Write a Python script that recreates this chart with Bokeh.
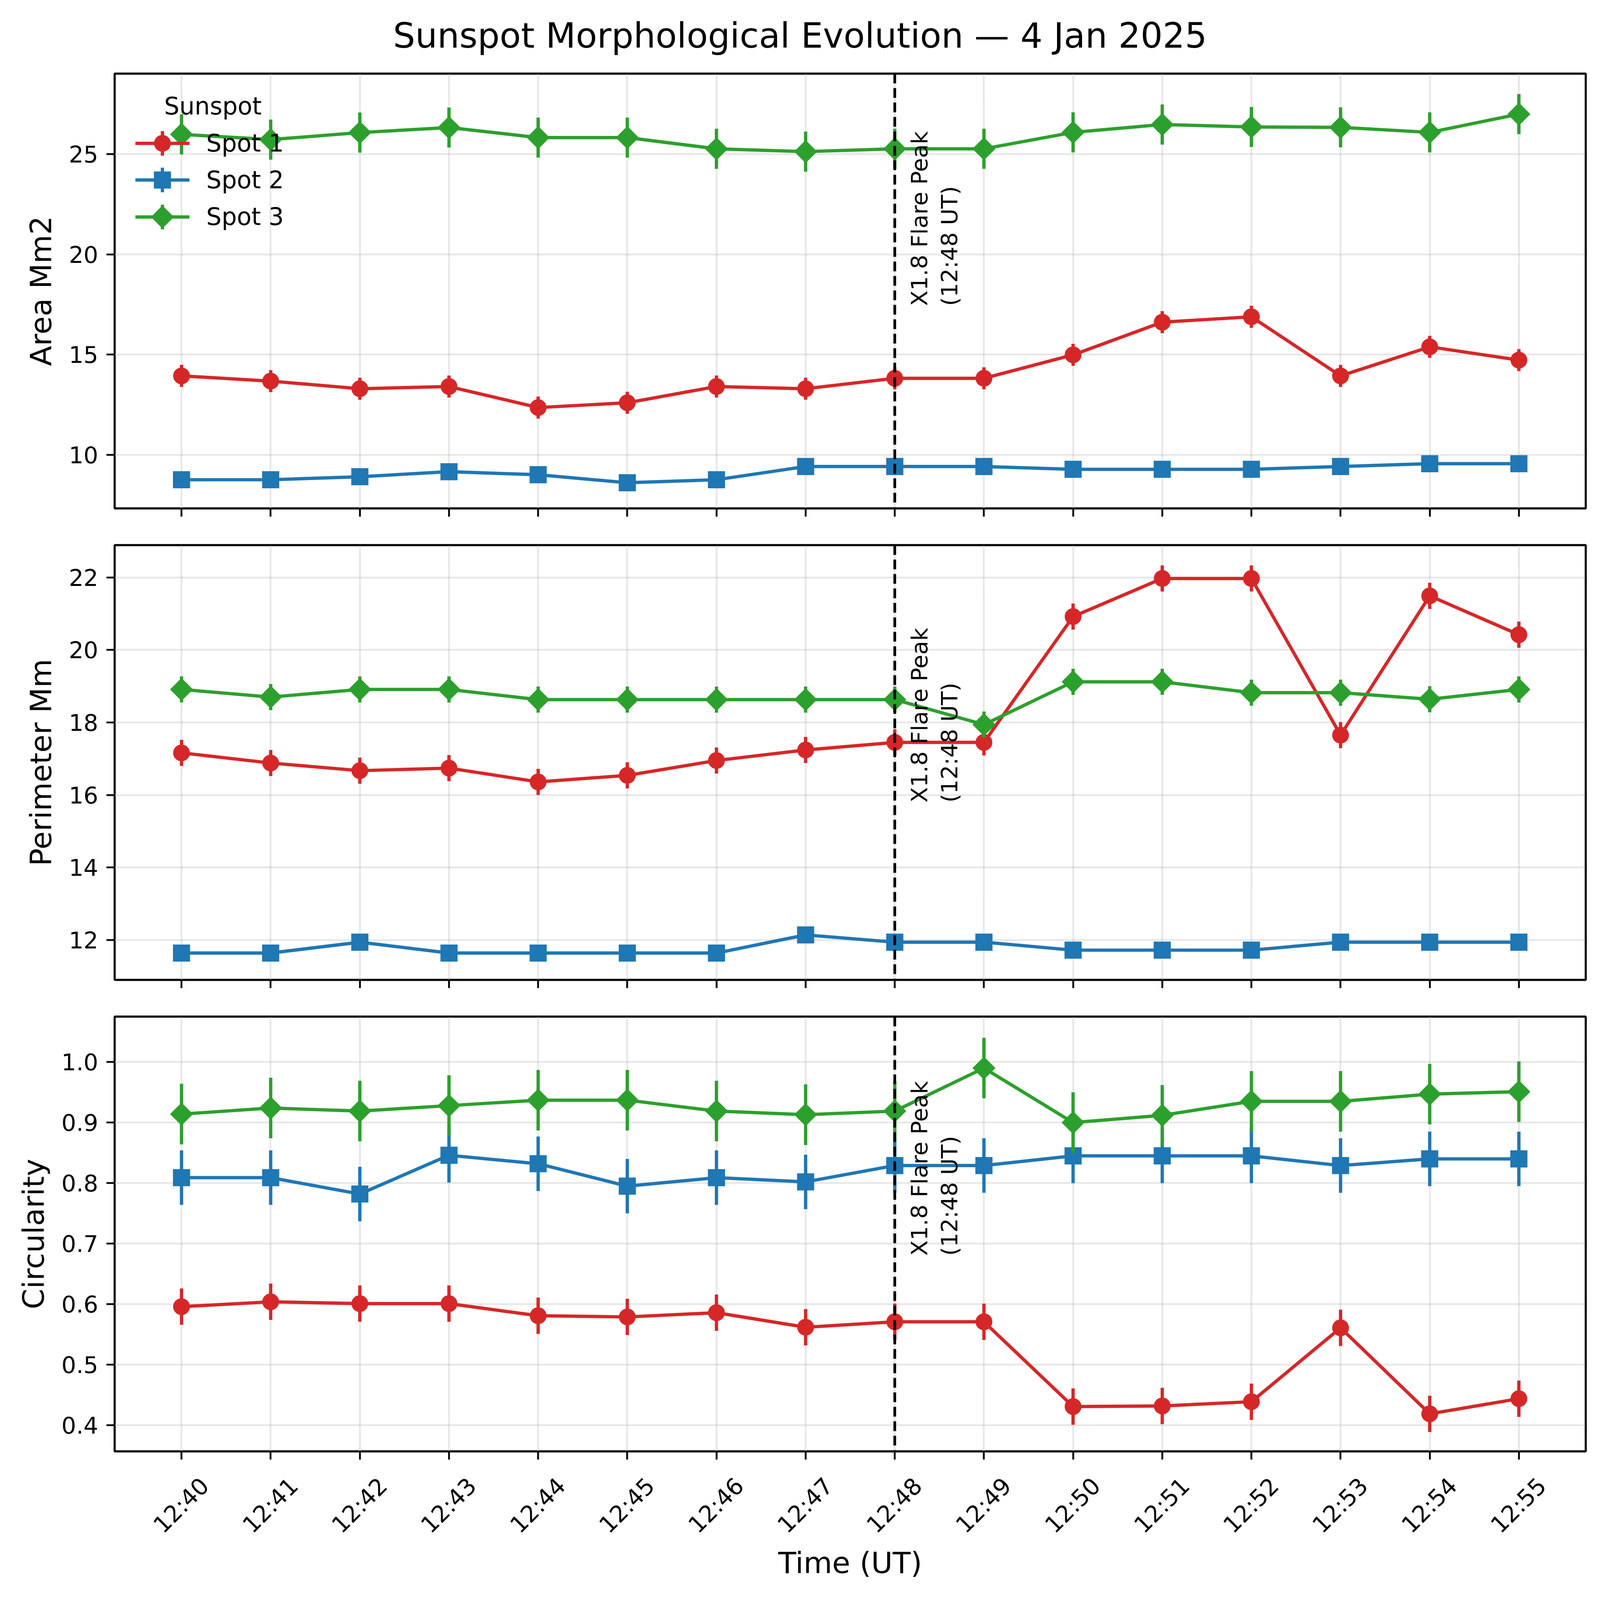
import numpy as np
from bokeh.plotting import figure
from bokeh.layouts import column
from bokeh.models import Range1d, FixedTicker, Span, LinearAxis
from bokeh.core.properties import value
from bokeh.embed import file_html
from bokeh.resources import INLINE

# ---------------- data ----------------
TITLE = "Sunspot Morphological Evolution \u2014 4 Jan 2025"
TIMES = ["12:40", "12:41", "12:42", "12:43", "12:44", "12:45", "12:46", "12:47",
         "12:48", "12:49", "12:50", "12:51", "12:52", "12:53", "12:54", "12:55"]
SPOTS = ["Spot 1", "Spot 2", "Spot 3"]
FLARE_TIME = "12:48"
FLARE_TEXT = "X1.8 Flare Peak\n(12:48 UT)"

AREA_SPOT1 = [13.94, 13.68, 13.30, 13.41, 12.36, 12.60, 13.41, 13.30, 13.82, 13.82, 14.99, 16.62, 16.89, 13.94, 15.39, 14.73]
AREA_SPOT2 = [8.76, 8.76, 8.91, 9.16, 9.01, 8.61, 8.76, 9.42, 9.42, 9.42, 9.28, 9.28, 9.28, 9.42, 9.56, 9.56]
AREA_SPOT3 = [25.99, 25.73, 26.08, 26.33, 25.83, 25.83, 25.27, 25.13, 25.27, 25.27, 26.09, 26.48, 26.36, 26.34, 26.09, 27.00]
AREA_ERR = [0.55, 0.30, 1.00]

PERIM_SPOT1 = [17.16, 16.88, 16.67, 16.74, 16.36, 16.54, 16.95, 17.24, 17.45, 17.45, 20.92, 21.97, 21.97, 17.65, 21.49, 20.42]
PERIM_SPOT2 = [11.64, 11.64, 11.94, 11.64, 11.64, 11.64, 11.64, 12.14, 11.94, 11.94, 11.72, 11.72, 11.72, 11.94, 11.94, 11.94]
PERIM_SPOT3 = [18.91, 18.70, 18.91, 18.91, 18.63, 18.63, 18.63, 18.63, 18.63, 17.94, 19.12, 19.12, 18.82, 18.82, 18.64, 18.91]
PERIM_ERR = [0.36, 0.20, 0.36]

CIRC_SPOT1 = [0.596, 0.604, 0.601, 0.601, 0.581, 0.579, 0.586, 0.562, 0.571, 0.571, 0.431, 0.432, 0.439, 0.561, 0.419, 0.444]
CIRC_SPOT2 = [0.809, 0.809, 0.782, 0.846, 0.832, 0.795, 0.809, 0.802, 0.829, 0.829, 0.845, 0.845, 0.845, 0.829, 0.840, 0.840]
CIRC_SPOT3 = [0.914, 0.924, 0.919, 0.928, 0.937, 0.937, 0.919, 0.913, 0.919, 0.990, 0.900, 0.912, 0.935, 0.935, 0.947, 0.951]
CIRC_ERR = [0.03, 0.045, 0.05]

Y1_TICKS = [10, 15, 20, 25]
Y2_TICKS = [12, 14, 16, 18, 20, 22]
Y3_TICKS = [0.4, 0.5, 0.6, 0.7, 0.8, 0.9, 1.0]

# ---------------- style / layout (CSS px; the page is photographed at 1.3 device px per CSS px) ----------------
DPR = 1.3


def c(v):
    return v / DPR


def fs(v):
    return f"{c(v):.1f}px"


COLORS = ["#d62728", "#1f77b4", "#2ca02c"]
FONT = "DejaVu Sans"
W = 4080
FRAME_LEFT = 293
FRAME_RIGHT_PAD = 21
FRAME_W = W - FRAME_LEFT - FRAME_RIGHT_PAD
FRAME_H = 1113
HALF_GAP = 47
TITLE_H = 178
TOP1 = 10
H3 = 1525
X_MIN, X_MAX = -0.75, 15.75
Y1 = (7.33, 29.02)
Y2 = (10.90, 22.89)
Y3 = (0.357, 1.075)
LW = c(11)
FLARE_TEXT_Y = [17.43, 15.79, 0.68]
FLARE_TEXT_DX = 0.13
LABEL_SHIFT = 0.26    # rotated labels end to the right of their tick so that they sit centred on it
TITLE_CX, TITLE_BASE = 2662, 118   # device px on the page

x_idx = np.arange(len(TIMES))
flare_idx = TIMES.index(FLARE_TIME)


def fx(px):
    """device-px offset from the frame's left edge -> x data value"""
    return X_MIN + c(px) * (X_MAX - X_MIN) / FRAME_W


def style_axis(ax):
    ax.axis_line_color = None
    ax.major_tick_line_width = c(6)
    ax.major_tick_out = round(c(27))
    ax.major_tick_in = 0
    ax.minor_tick_line_color = None
    ax.major_label_text_font = FONT
    ax.major_label_text_font_size = fs(77)
    ax.major_label_text_color = "black"
    ax.major_label_standoff = round(c(27))
    ax.axis_label_text_font = FONT
    ax.axis_label_text_font_size = fs(98)
    ax.axis_label_text_font_style = "normal"
    ax.axis_label_text_color = "black"


def make_panel(height, top, bottom, yr, yticks, ylabel):
    p = figure(width=W, height=height, x_range=Range1d(X_MIN, X_MAX), y_range=Range1d(*yr),
               output_backend="svg", toolbar_location=None,
               min_border_left=FRAME_LEFT, min_border_right=FRAME_RIGHT_PAD,
               min_border_top=top, min_border_bottom=bottom)
    p.outline_line_color = "black"
    p.outline_line_width = c(7)
    p.background_fill_color = "white"
    p.border_fill_color = "white"
    xt = FixedTicker(ticks=list(range(len(TIMES))))
    yt = FixedTicker(ticks=list(yticks))
    p.xaxis.ticker = xt
    p.yaxis.ticker = yt
    p.xgrid.ticker = xt
    p.ygrid.ticker = yt
    for g in (p.xgrid, p.ygrid):
        g.grid_line_color = "#b0b0b0"
        g.grid_line_alpha = 0.3
        g.grid_line_width = c(6)
    style_axis(p.xaxis[0])
    style_axis(p.yaxis[0])
    p.yaxis.axis_label = ylabel
    p.yaxis.axis_label_standoff = 24
    p.yaxis.major_label_overrides = {v: (f"{v:.1f}" if isinstance(v, float) else str(v)) for v in yticks}
    # shared x: tick marks on every panel, time labels only under the bottom panel
    p.xaxis.major_label_overrides = {i: "" for i in range(len(TIMES))}
    p.xaxis.major_label_text_font_size = "0px"
    p.xaxis.major_label_standoff = 0
    return p


def draw_marker(p, x, y, color, kind):
    if kind == 0:
        p.scatter(x, y, marker="circle", size=c(56), fill_color=color, line_color=None)
    elif kind == 1:
        p.scatter(x, y, marker="square", size=c(57), fill_color=color, line_color=None)
    else:
        p.scatter(x, y, marker="square", angle=np.pi / 4, size=c(54), fill_color=color, line_color=None)


def draw_series(p, vals, err, color, kind):
    v = np.array(vals, dtype=float)
    p.segment(x0=x_idx, y0=v - err, x1=x_idx, y1=v + err, line_color=color, line_width=LW)
    p.line(x_idx, v, line_color=color, line_width=LW)
    draw_marker(p, x_idx, v, color, kind)


def add_flare(p, ytext):
    p.add_layout(Span(location=flare_idx, dimension="height", line_color="black",
                      line_width=c(9), line_dash="25 12"))
    p.text(x=[flare_idx + FLARE_TEXT_DX], y=[ytext], text=[FLARE_TEXT], angle=np.pi / 2,
           text_font=value(FONT), text_font_size=value(fs(75)), text_align="left",
           text_baseline="top", text_color="black", text_line_height=1.13)


# figure-wide title strip (same horizontal frame as the panels; text centred on the whole figure)
pt = figure(width=W, height=TITLE_H, x_range=Range1d(X_MIN, X_MAX), y_range=Range1d(0, TITLE_H),
            output_backend="svg", toolbar_location=None, x_axis_type=None, y_axis_type=None,
            min_border_left=FRAME_LEFT, min_border_right=FRAME_RIGHT_PAD,
            min_border_top=0, min_border_bottom=0)
pt.outline_line_color = None
pt.background_fill_color = "white"
pt.border_fill_color = "white"
pt.text(x=[fx(TITLE_CX - c(0) - FRAME_LEFT * DPR)], y=[TITLE_H - c(TITLE_BASE)], text=[TITLE],
        text_font=value(FONT), text_font_size=value(fs(116)), text_align="center",
        text_baseline="alphabetic", text_color="black")

p1 = make_panel(TOP1 + FRAME_H + HALF_GAP, TOP1, HALF_GAP, Y1, Y1_TICKS, "Area Mm2")
p2 = make_panel(HALF_GAP + FRAME_H + HALF_GAP, HALF_GAP, HALF_GAP, Y2, Y2_TICKS, "Perimeter Mm")
p3 = make_panel(H3, HALF_GAP, H3 - HALF_GAP - FRAME_H, Y3, Y3_TICKS, "Circularity")

for p, series, errs in ((p1, (AREA_SPOT1, AREA_SPOT2, AREA_SPOT3), AREA_ERR),
                        (p2, (PERIM_SPOT1, PERIM_SPOT2, PERIM_SPOT3), PERIM_ERR),
                        (p3, (CIRC_SPOT1, CIRC_SPOT2, CIRC_SPOT3), CIRC_ERR)):
    for k in range(3):
        draw_series(p, series[k], errs[k], COLORS[k], k)

for p, yt in zip((p1, p2, p3), FLARE_TEXT_Y):
    add_flare(p, yt)

# bottom panel: a label-only axis under the tick axis carries the rotated time labels and the x title
lab_ticks = [round(i + LABEL_SHIFT, 3) for i in range(len(TIMES))]
time_axis = LinearAxis(ticker=FixedTicker(ticks=lab_ticks),
                       major_label_overrides={t: TIMES[i] for i, t in enumerate(lab_ticks)})
style_axis(time_axis)
time_axis.major_tick_out = 0
time_axis.major_tick_line_color = None
time_axis.major_label_orientation = np.pi / 4
time_axis.major_label_standoff = 57
time_axis.axis_label = "Time (UT)"
time_axis.axis_label_standoff = -9
p3.add_layout(time_axis, "below")


# legend (drawn in the top panel, positioned by pixel offsets from the frame's top-left)
def fy1(py):
    return Y1[1] - c(py) * (Y1[1] - Y1[0]) / FRAME_H


LEG_X0, LEG_X1, LEG_XM, LEG_TX = 69, 249, 159, 305
LEG_ROWS = [232, 354, 477]
LEG_ERR = 41
LEG_TITLE_X, LEG_TITLE_Y = 327, 108
p1.text(x=[fx(LEG_TITLE_X)], y=[fy1(LEG_TITLE_Y)], text=["Sunspot"], text_font=value(FONT),
        text_font_size=value(fs(80)), text_align="center", text_baseline="alphabetic",
        text_color="black")
for k, row in enumerate(LEG_ROWS):
    col = COLORS[k]
    p1.line([fx(LEG_X0), fx(LEG_X1)], [fy1(row), fy1(row)], line_color=col, line_width=LW)
    p1.segment(x0=[fx(LEG_XM)], y0=[fy1(row - LEG_ERR)], x1=[fx(LEG_XM)], y1=[fy1(row + LEG_ERR)],
               line_color=col, line_width=LW)
    draw_marker(p1, [fx(LEG_XM)], [fy1(row)], col, k)
    p1.text(x=[fx(LEG_TX)], y=[fy1(row)], text=[SPOTS[k]], text_font=value(FONT),
            text_font_size=value(fs(80)), text_align="left", text_baseline="middle",
            text_color="black")

layout = column(pt, p1, p2, p3)
open("out.html", "w").write(file_html(layout, INLINE))
